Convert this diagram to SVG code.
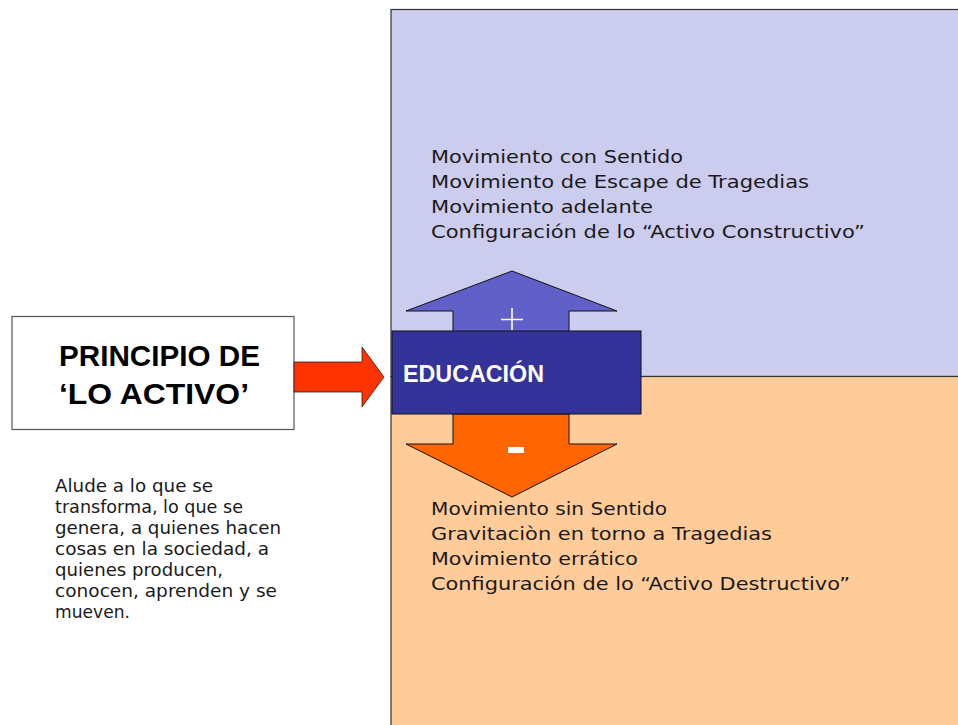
<svg xmlns="http://www.w3.org/2000/svg" width="958" height="725" viewBox="0 0 958 725">
<style>
.body{font-family:"DejaVu Sans","Liberation Sans",sans-serif;font-size:18px;fill:#1a1a1a}
.side{font-family:"DejaVu Sans","Liberation Sans",sans-serif;font-size:17px;fill:#1a1a1a}
.title{font-family:"Liberation Sans",Arial,sans-serif;font-size:30px;font-weight:bold;fill:#000}
.edu{font-family:"Liberation Sans",Arial,sans-serif;font-size:23px;font-weight:bold;fill:#fff}
.frame{stroke:#333;stroke-width:1.2}
</style>
<g id="panel-positive">
<rect x="391" y="9.5" width="580" height="367" fill="#CCCCEE" class="frame"/>
<text class="body" x="431" y="163" textLength="252" lengthAdjust="spacingAndGlyphs">Movimiento con Sentido</text>
<text class="body" x="431" y="188" textLength="378" lengthAdjust="spacingAndGlyphs">Movimiento de Escape de Tragedias</text>
<text class="body" x="431" y="213" textLength="222" lengthAdjust="spacingAndGlyphs">Movimiento adelante</text>
<text class="body" x="431" y="238" textLength="434" lengthAdjust="spacingAndGlyphs">Configuración de lo “Activo Constructivo”</text>
</g>
<g id="panel-negative">
<rect x="391" y="376.5" width="580" height="360" fill="#FFCC99" class="frame"/>
<text class="body" x="431" y="515" textLength="236" lengthAdjust="spacingAndGlyphs">Movimiento sin Sentido</text>
<text class="body" x="431" y="540" textLength="341" lengthAdjust="spacingAndGlyphs">Gravitaciòn en torno a Tragedias</text>
<text class="body" x="431" y="565" textLength="207" lengthAdjust="spacingAndGlyphs">Movimiento errático</text>
<text class="body" x="431" y="590" textLength="419" lengthAdjust="spacingAndGlyphs">Configuración de lo “Activo Destructivo”</text>
</g>
<g id="principio">
<rect x="12" y="316.5" width="282" height="113" fill="#fff" stroke="#555" stroke-width="1.2"/>
<text class="title" x="59" y="366" textLength="201" lengthAdjust="spacingAndGlyphs">PRINCIPIO DE</text>
<text class="title" x="59" y="404" textLength="190" lengthAdjust="spacingAndGlyphs">‘LO ACTIVO’</text>
</g>
<g id="descripcion">
<text class="side" x="55" y="492" textLength="158" lengthAdjust="spacingAndGlyphs">Alude a lo que se</text>
<text class="side" x="55" y="513" textLength="188" lengthAdjust="spacingAndGlyphs">transforma, lo que se</text>
<text class="side" x="55" y="534" textLength="226" lengthAdjust="spacingAndGlyphs">genera, a quienes hacen</text>
<text class="side" x="55" y="555" textLength="214" lengthAdjust="spacingAndGlyphs">cosas en la sociedad, a</text>
<text class="side" x="55" y="576" textLength="168" lengthAdjust="spacingAndGlyphs">quienes producen,</text>
<text class="side" x="55" y="597" textLength="222" lengthAdjust="spacingAndGlyphs">conocen, aprenden y se</text>
<text class="side" x="55" y="618" textLength="75" lengthAdjust="spacingAndGlyphs">mueven.</text>
</g>
<g id="connectors">
<polygon points="294,362 362,362 362,347 384,377 362,407 362,392 294,392" fill="#FF3300" stroke="#222" stroke-width="0.8"/>
<polygon points="512,271 617,311 569,311 569,334 453,334 453,311 406,311" fill="#6060C8" stroke="#111" stroke-width="1"/>
<polygon points="453,414 569,414 569,444 617,444 512,497 406,444 453,444" fill="#FF6600" stroke="#111" stroke-width="1"/>
</g>
<g id="educacion">
<rect x="392" y="331" width="249" height="83" fill="#333399" stroke="#111" stroke-width="1"/>
<text class="edu" x="403" y="382" textLength="141" lengthAdjust="spacingAndGlyphs">EDUCACIÓN</text>
</g>
<g id="signs">
<path d="M512,308 V330 M501,319.5 H523" stroke="#fff" stroke-width="1.6" fill="none"/>
<rect x="508" y="447" width="16" height="6" fill="#fff"/>
</g>
</svg>
